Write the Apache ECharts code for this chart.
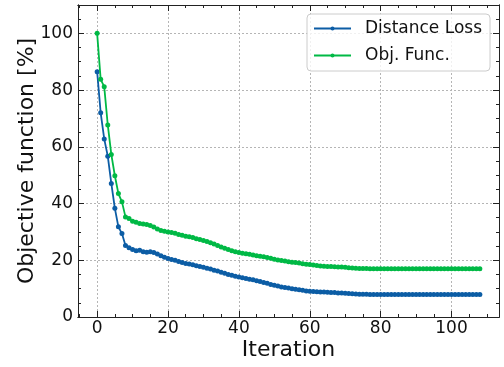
<!DOCTYPE html>
<html>
<head>
<meta charset="utf-8">
<script src="https://cdn.jsdelivr.net/npm/echarts@6/dist/echarts.min.js"></script>
<style>
  html, body { margin: 0; padding: 0; background: #fff; }
  #chart { width: 504px; height: 367px; }
</style>
</head>
<body>
<div id="chart"></div>
<script>
// values, one per iteration (0 .. 108)
const distanceLoss = [
  86.5, 72.0, 62.8, 56.7, 47.1, 38.3, 31.8, 29.4, 25.2, 24.4,
  23.8, 23.4, 23.5, 23.0, 22.8, 23.0, 22.7, 22.2, 21.6, 21.1,
  20.6, 20.3, 20.0, 19.6, 19.2, 18.9, 18.7, 18.4, 18.1, 17.8,
  17.5, 17.2, 16.9, 16.5, 16.2, 15.8, 15.4, 15.0, 14.7, 14.4,
  14.1, 13.8, 13.6, 13.3, 13.1, 12.8, 12.5, 12.2, 11.9, 11.5,
  11.2, 10.9, 10.6, 10.4, 10.2, 10.0, 9.8, 9.6, 9.4, 9.2,
  9.1, 9.0, 8.9, 8.8, 8.8, 8.7, 8.6, 8.6, 8.5, 8.5,
  8.4, 8.3, 8.2, 8.1, 8.0, 8.0, 8.0, 7.9, 7.9, 7.9,
  7.9, 7.9, 7.9, 7.9, 7.9, 7.9, 7.9, 7.9, 7.9, 7.9,
  7.9, 7.9, 7.9, 7.9, 7.9, 7.9, 7.9, 7.9, 7.9, 7.9,
  7.9, 7.9, 7.9, 7.9, 7.9, 7.9, 7.9, 7.9, 7.9
]
const objFunc = [
  100, 83.8, 81.2, 67.7, 57.3, 49.8, 43.5, 40.6, 35.3, 34.7,
  33.8, 33.4, 33.0, 32.8, 32.6, 32.3, 31.7, 31.0, 30.5, 30.2,
  30.0, 29.8, 29.5, 29.1, 28.8, 28.5, 28.3, 28.0, 27.6, 27.3,
  27.0, 26.6, 26.2, 25.7, 25.2, 24.7, 24.2, 23.8, 23.4, 23.0,
  22.7, 22.5, 22.3, 22.1, 21.9, 21.6, 21.4, 21.2, 21.0, 20.7,
  20.4, 20.1, 19.9, 19.7, 19.5, 19.3, 19.2, 19.0, 18.8, 18.6,
  18.5, 18.3, 18.2, 18.0, 17.9, 17.8, 17.8, 17.7, 17.6, 17.6,
  17.5, 17.4, 17.3, 17.2, 17.1, 17.1, 17.1, 17.0, 17.0, 17.0,
  17.0, 17.0, 17.0, 17.0, 17.0, 17.0, 17.0, 17.0, 17.0, 17.0,
  17.0, 17.0, 17.0, 17.0, 17.0, 17.0, 17.0, 17.0, 17.0, 17.0,
  17.0, 17.0, 17.0, 17.0, 17.0, 17.0, 17.0, 17.0, 17.0
]
const seriesNames = ['Distance Loss', 'Obj. Func.']
// tick positions
const xMajor = [0, 20, 40, 60, 80, 100]
const xMinor = [-5, 5, 10, 15, 25, 30, 35, 45, 50, 55, 65, 70, 75, 85, 90, 95, 105, 110]
const yMajor = [0, 20, 40, 60, 80, 100]
const yMinor = [5, 10, 15, 25, 30, 35, 45, 50, 55, 65, 70, 75, 85, 90, 95, 105]

const FONT = 'DejaVu Sans'
const INK = '#222'

const chart = echarts.init(document.getElementById('chart'), null, { renderer: 'canvas' })

// one axis = either the major ticks (with labels/grid) or the minor ticks
function xAxisOf (position, ticks, len, major) {
  const main = major && position === 'bottom'
  return {
    type: 'value',
    position: position,
    min: -5.4,
    max: 113.4,
    axisLine: { show: true, onZero: false, lineStyle: { color: INK, width: 1 } },
    axisTick: { show: true, inside: true, length: len, customValues: ticks, lineStyle: { color: INK, width: 1 } },
    axisLabel: {
      show: main,
      customValues: ticks,
      margin: 3,
      color: '#111',
      fontFamily: FONT,
      fontSize: 17
    },
    splitLine: {
      show: main,
      lineStyle: { color: '#b5b5b5', width: 1, type: [2, 2] }
    },
    name: main ? 'Iteration' : '',
    nameLocation: 'middle',
    nameGap: 22,
    nameMoveOverlap: false,
    nameTextStyle: { fontFamily: FONT, fontSize: 22, color: '#111' }
  }
}

function yAxisOf (position, ticks, len, major) {
  const main = major && position === 'left'
  return {
    type: 'value',
    position: position,
    min: 0,
    max: 110,
    axisLine: { show: true, onZero: false, lineStyle: { color: INK, width: 1 } },
    axisTick: { show: true, inside: true, length: len, customValues: ticks, lineStyle: { color: INK, width: 1 } },
    axisLabel: {
      show: main,
      customValues: ticks,
      margin: 5,
      color: '#111',
      fontFamily: FONT,
      fontSize: 17
    },
    splitLine: {
      show: main,
      lineStyle: { color: '#b5b5b5', width: 1, type: [2, 2] }
    },
    name: main ? 'Objective function [%]' : '',
    nameLocation: 'middle',
    nameGap: 40,
    nameMoveOverlap: false,
    nameTextStyle: { fontFamily: FONT, fontSize: 22, color: '#111' }
  }
}

const colors = ['#0C5DA5', '#00B945']
const seriesData = [distanceLoss, objFunc]

const option = {
  animation: false,
  backgroundColor: '#fff',
  textStyle: { fontFamily: FONT },
  grid: { left: 78, right: 5, top: 5, bottom: 50, containLabel: false, outerBoundsMode: 'none' },
  xAxis: [
    xAxisOf('bottom', xMajor, 6, true),
    xAxisOf('bottom', xMinor, 3, false),
    xAxisOf('top', xMajor, 6, true),
    xAxisOf('top', xMinor, 3, false)
  ],
  yAxis: [
    yAxisOf('left', yMajor, 6, true),
    yAxisOf('left', yMinor, 3, false),
    yAxisOf('right', yMajor, 6, true),
    yAxisOf('right', yMinor, 3, false)
  ],
  legend: {
    data: seriesNames,
    orient: 'vertical',
    left: 307,
    top: 14,
    itemWidth: 37,
    itemHeight: 5,
    itemGap: 10,
    padding: [6, 8, 7, 6],
    backgroundColor: 'rgba(255,255,255,0.8)',
    borderColor: '#cccccc',
    borderWidth: 1,
    borderRadius: 4,
    textStyle: { fontFamily: FONT, fontSize: 17, color: '#111', padding: [0, 0, 0, 9] }
  },
  series: seriesNames.map((name, k) => ({
    name: name,
    type: 'line',
    xAxisIndex: 0,
    yAxisIndex: 0,
    data: seriesData[k].map((v, i) => [i, v]),
    symbol: 'circle',
    symbolSize: 5,
    showSymbol: true,
    color: colors[k],
    lineStyle: { color: colors[k], width: 1.8 },
    itemStyle: { color: colors[k] },
    z: 2 + k
  }))
}

chart.setOption(option)
</script>
</body>
</html>
